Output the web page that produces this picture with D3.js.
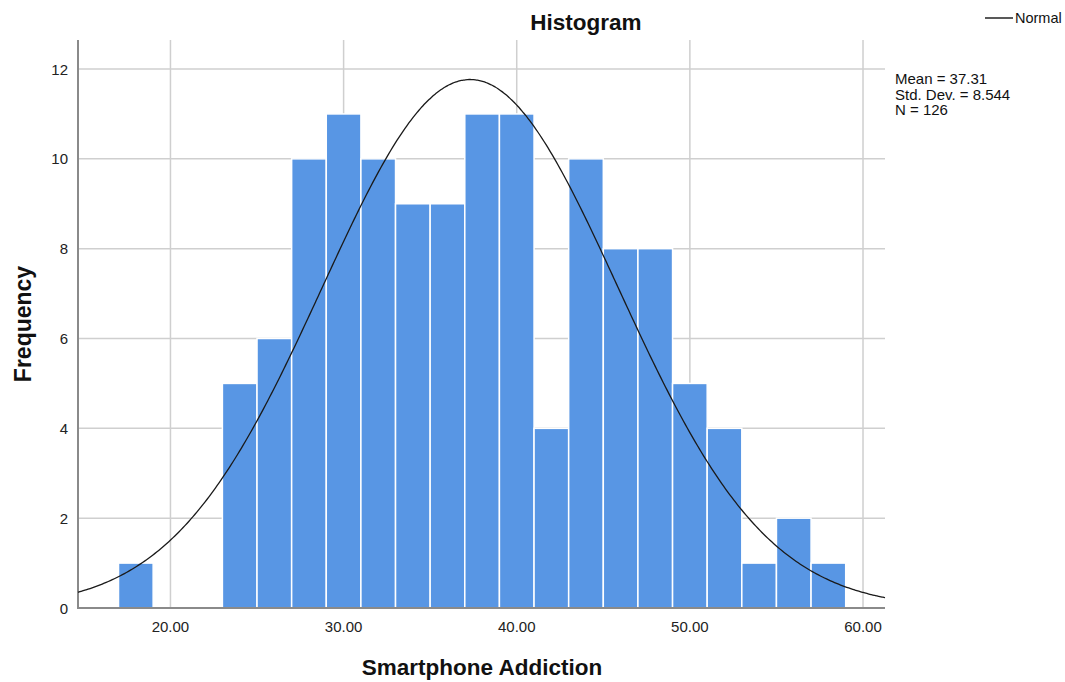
<!DOCTYPE html>
<html><head><meta charset="utf-8">
<script src="https://cdn.jsdelivr.net/npm/d3@7"></script>
<style>body{margin:0;background:#fff;font-family:"Liberation Sans",Arial,sans-serif;}</style>
</head><body><svg id="c" width="1065" height="682"></svg>
<script>
const binStarts = [17,19,21,23,25,27,29,31,33,35,37,39,41,43,45,47,49,51,53,55,57];
const counts    = [1,0,0,5,6,10,11,10,9,9,11,11,4,10,8,8,5,4,1,2,1];
const binWidth = [2];
const xTicks = [20,30,40,50,60];
const yTicks = [0,2,4,6,8,10,12];
const statLabels = ["Mean = 37.31","Std. Dev. = 8.544","N = 126"];
const mean = [37.31], sd = [8.544], nObs = [126];

const svg = d3.select("#c");
const L=78, R=885, T=40, B=608;
const x = d3.scaleLinear().domain([14.66,61.27]).range([L,R]);
const y = d3.scaleLinear().domain([0,12.646]).range([B,T]);

const g = svg.append("g");
g.selectAll(".vg").data(xTicks).join("line")
 .attr("x1",d=>x(d)).attr("x2",d=>x(d)).attr("y1",T).attr("y2",B)
 .attr("stroke","#cfcfcf").attr("stroke-width",1.5);
g.selectAll(".hg").data(yTicks.filter(d=>d>0)).join("line")
 .attr("x1",L).attr("x2",R).attr("y1",d=>y(d)).attr("y2",d=>y(d))
 .attr("stroke","#cfcfcf").attr("stroke-width",1.5);

const data = binStarts.map((s,i)=>({s, c:counts[i]})).filter(d=>d.c>0);
svg.append("g").selectAll("rect").data(data).join("rect")
 .attr("x",d=>x(d.s)).attr("width",d=>x(d.s+binWidth[0])-x(d.s))
 .attr("y",d=>y(d.c)).attr("height",d=>y(0)-y(d.c))
 .attr("fill","#5896e4").attr("stroke","#ffffff").attr("stroke-width",1.5);

svg.append("line").attr("x1",L).attr("x2",L).attr("y1",T).attr("y2",B+1).attr("stroke","#8a8a8a").attr("stroke-width",2);
svg.append("line").attr("x1",L-1).attr("x2",R).attr("y1",B).attr("y2",B).attr("stroke","#8a8a8a").attr("stroke-width",2);

svg.append("g").selectAll("text").data(yTicks).join("text")
 .attr("x",L-10).attr("y",d=>y(d)+5.5).attr("text-anchor","end")
 .attr("font-size",15).attr("fill","#222").text(d=>d);
svg.append("g").selectAll("text").data(xTicks).join("text")
 .attr("x",d=>x(d)).attr("y",632).attr("text-anchor","middle")
 .attr("font-size",15).attr("fill","#222").text(d=>d.toFixed(2));

const scaleF = nObs[0]*binWidth[0]/(sd[0]*Math.sqrt(2*Math.PI));
const pts = d3.range(0,401).map(i=>{const v=14.66+(61.27-14.66)*i/400; return [v, scaleF*Math.exp(-0.5*((v-mean[0])/sd[0])**2)];});
svg.append("path").datum(pts)
 .attr("d",d3.line().x(d=>x(d[0])).y(d=>y(d[1])).curve(d3.curveBasis))
 .attr("fill","none").attr("stroke","#1a1a1a").attr("stroke-width",1.3);

svg.append("text").attr("x",586).attr("y",30).attr("text-anchor","middle")
 .attr("font-size",22.5).attr("font-weight","bold").attr("fill","#111").text("Histogram");
svg.append("text").attr("x",482).attr("y",675).attr("text-anchor","middle")
 .attr("font-size",22.5).attr("font-weight","bold").attr("fill","#111").text("Smartphone Addiction");
svg.append("text").attr("transform","translate(31,324) rotate(-90)").attr("text-anchor","middle")
 .attr("font-size",23).attr("font-weight","bold").attr("fill","#111").text("Frequency");

svg.append("line").attr("x1",985).attr("x2",1013).attr("y1",18).attr("y2",18).attr("stroke","#222").attr("stroke-width",1.5);
svg.append("text").attr("x",1015).attr("y",23).attr("font-size",14.5).attr("fill","#111").text("Normal");
svg.append("g").selectAll("text").data(statLabels).join("text")
 .attr("x",895).attr("y",(d,i)=>84+i*15.5).attr("font-size",15).attr("fill","#111").text(d=>d);
</script></body></html>
